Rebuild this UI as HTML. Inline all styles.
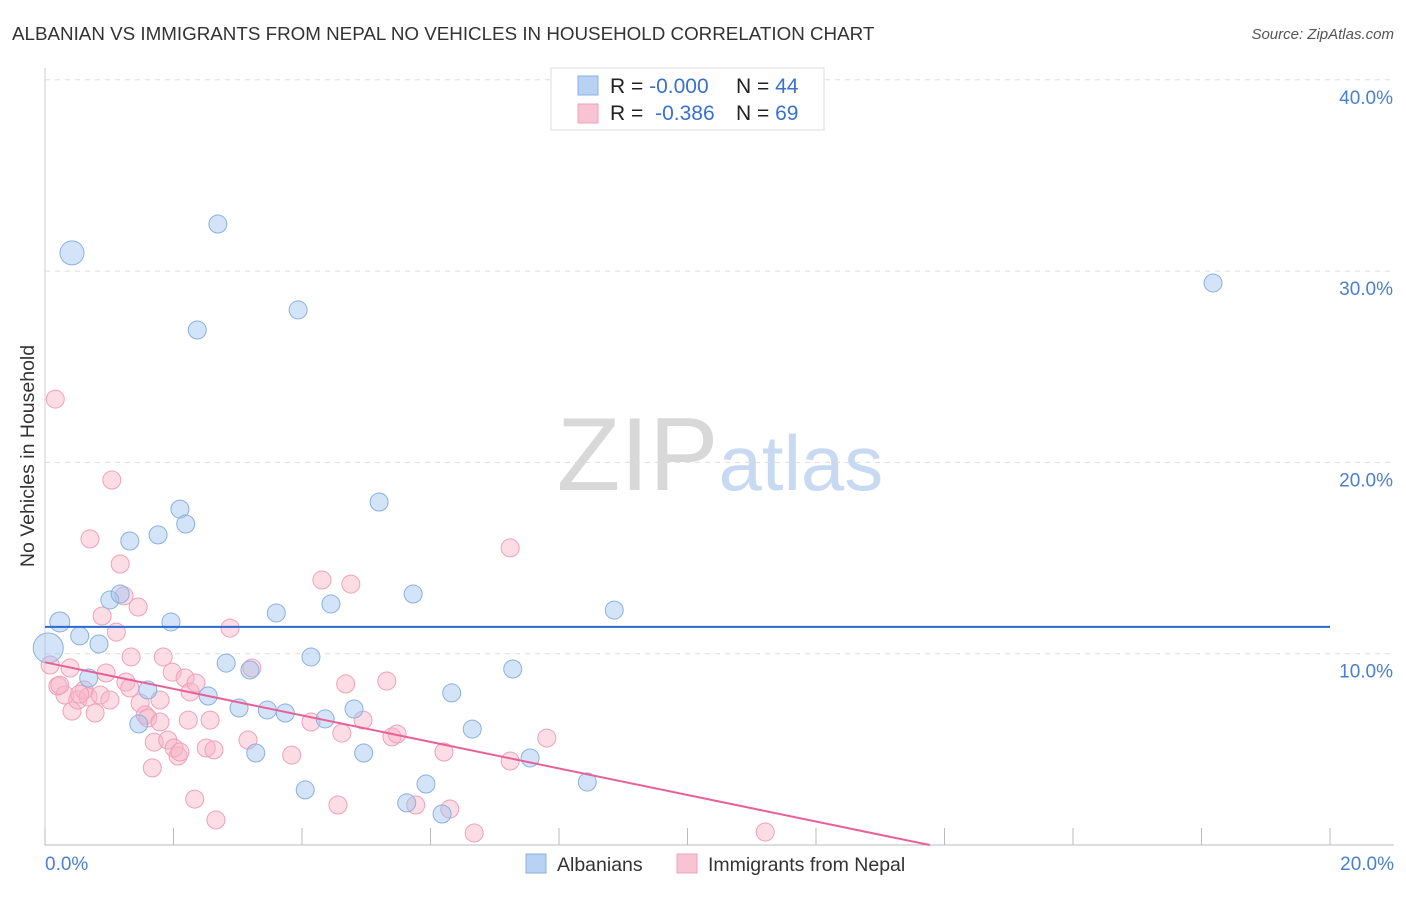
<!DOCTYPE html>
<html><head><meta charset="utf-8"><style>
body{margin:0;background:#fff;font-family:"Liberation Sans",sans-serif;}
svg text{font-family:"Liberation Sans",sans-serif;}
</style></head><body>
<svg id="chart" width="1406" height="892" xmlns="http://www.w3.org/2000/svg">
<text x="12" y="40" font-size="18.8" fill="#333">ALBANIAN VS IMMIGRANTS FROM NEPAL NO VEHICLES IN HOUSEHOLD CORRELATION CHART</text>
<text x="1394" y="39" font-size="15" fill="#555" font-style="italic" text-anchor="end">Source: ZipAtlas.com</text>
<text x="720" y="490" font-size="104" fill="#ddd" text-anchor="middle" font-family="Liberation Serif"><tspan fill="#d8d8d8">ZIP</tspan><tspan fill="#c8daf2" font-family="Liberation Sans" font-size="78">atlas</tspan></text>
<text transform="translate(34,456) rotate(-90)" font-size="19.5" fill="#333" text-anchor="middle">No Vehicles in Household</text>
<g id="grid"></g><g id="ticks"></g><g id="pts"></g><g id="lines"></g>
<g>
<rect x="551" y="68" width="273" height="62" fill="#fff" stroke="#ddd"/>
<rect x="578" y="76" width="20" height="19" fill="#b8d2f4" stroke="#8ab0e0"/>
<rect x="578" y="104" width="20" height="19" fill="#f8c4d4" stroke="#f0a0b8"/>
<text x="610" y="93" font-size="21" fill="#222">R = <tspan fill="#3a70d0">-0.000</tspan></text>
<text x="736" y="93" font-size="21" fill="#222">N = <tspan fill="#3a70d0">44</tspan></text>
<text x="610" y="120" font-size="21" fill="#222">R = <tspan fill="#3a70d0" dx="6">-0.386</tspan></text>
<text x="736" y="120" font-size="21" fill="#222">N = <tspan fill="#3a70d0">69</tspan></text>
</g>
<g>
<rect x="526" y="854" width="20" height="19" fill="#b8d2f4" stroke="#8ab0e0"/>
<text x="557" y="871" font-size="19.5" fill="#333">Albanians</text>
<rect x="677" y="854" width="20" height="19" fill="#f8c4d4" stroke="#f0a0b8"/>
<text x="708" y="871" font-size="19.5" fill="#333">Immigrants from Nepal</text>
</g>
</svg>
<script>
const xTicks=[0,20];
const yTicks=[10,20,30,40];
const blueX=[0.42,2.69,2.37,3.94,18.18,0.23,0.54,0.84,1.01,1.17,1.32,1.76,2.10,2.19,1.96,3.60,4.45,5.20,5.73,8.86,0.68,1.60,1.46,2.54,2.82,3.19,3.02,3.46,3.74,4.14,4.36,4.81,4.96,3.28,4.05,5.93,5.63,6.18,6.33,6.65,7.28,7.55,8.44,0.05];
const blueY=[30.95,32.46,26.92,27.97,29.38,11.66,10.93,10.51,12.81,13.12,15.89,16.21,17.56,16.78,11.66,12.13,12.60,17.93,13.12,12.28,8.73,8.10,6.33,7.79,9.51,9.15,7.16,7.06,6.90,9.83,6.59,7.11,4.81,4.81,2.88,3.19,2.20,1.62,7.95,6.06,9.20,4.55,3.29,10.30];
const blueSize=[12,9,9,9,9,10,9,9,9,9,9,9,9,9,9,9,9,9,9,9,9,9,9,9,9,9,9,9,9,9,9,9,9,9,9,9,9,9,9,9,9,9,9,15];
const pinkX=[0.16,1.04,0.70,1.17,1.23,1.45,0.89,1.11,2.88,7.24,4.31,4.76,0.08,0.20,0.31,0.42,0.51,0.61,0.67,0.78,0.86,0.95,1.01,1.26,1.34,1.48,1.56,1.60,1.79,1.84,1.98,1.79,1.70,1.91,2.01,2.07,2.10,2.18,2.26,2.23,2.35,2.57,2.51,2.63,1.67,2.33,2.66,3.22,3.16,3.84,4.14,4.62,4.68,4.95,5.32,5.40,5.48,4.56,5.77,6.30,6.21,6.68,7.24,7.81,11.21,0.23,0.54,1.32,0.39];
const pinkY=[23.31,19.08,16.00,14.69,13.02,12.44,11.97,11.13,11.34,15.53,13.85,13.64,9.41,8.31,7.84,7.00,7.58,8.10,7.74,6.90,7.84,8.99,7.58,8.52,9.83,7.42,6.80,6.64,7.58,9.83,9.04,6.43,5.38,5.49,5.07,4.65,4.86,8.73,8.00,6.53,8.47,6.53,5.07,4.97,4.03,2.40,1.31,9.25,5.49,4.70,6.43,5.85,8.42,6.53,8.57,5.65,5.80,2.09,2.09,1.88,4.86,0.63,4.39,5.59,0.68,8.36,7.89,8.21,9.25];
const blueTrend=[11.4,11.4];
const pinkTrend=[9.55,0];
const pinkTrendEndX=13.77;
const NS='http://www.w3.org/2000/svg';
const sx=v=>45+v*64.25, sy=v=>845-v*19.13;
function mk(t,a,p){const e=document.createElementNS(NS,t);for(const k in a)e.setAttribute(k,a[k]);document.getElementById(p).appendChild(e);return e;}
yTicks.forEach(t=>{
 const l=mk('line',{x1:45,x2:1394,y1:sy(t),y2:sy(t),stroke:'#ddd','stroke-dasharray':'5,5'},'grid');
 
 
 const tx=mk('text',{x:1393,y:sy(t)+24,'font-size':19,fill:'#4a7fd0','text-anchor':'end'},'ticks');
 tx.textContent=t.toFixed(1)+'%';
 
 
});
const ax=mk('line',{x1:45,x2:45,y1:68,y2:845,stroke:'#ccc'},'grid');


const bx=mk('line',{x1:45,x2:1394,y1:845,y2:845,stroke:'#bbb'},'grid');


for(let i=0;i<=10;i++){const v=i*2;const t=mk('line',{x1:sx(v),x2:sx(v),y1:828,y2:845,stroke:'#bbb'},'grid');
 
 }
xTicks.forEach((t,i)=>{const tx=mk('text',{x:i==0?45:1394,y:870,'font-size':19,fill:'#4a7fd0','text-anchor':i==0?'start':'end'},'ticks');
 tx.textContent=t.toFixed(1)+'%';
 
 });
pinkX.forEach((x,i)=>{const c=mk('circle',{cx:sx(x),cy:sy(pinkY[i]),r:9,fill:'rgba(248,180,200,0.45)',stroke:'#f0a0b8','stroke-width':1},'pts');
 
 });
blueX.forEach((x,i)=>{const c=mk('circle',{cx:sx(x),cy:sy(blueY[i]),r:blueSize[i],fill:'rgba(160,196,240,0.45)',stroke:'#8ab0e0','stroke-width':1},'pts');
 
 });
const bl=mk('line',{x1:sx(0),x2:sx(20),y1:sy(blueTrend[0]),y2:sy(blueTrend[1]),stroke:'#2a6ad0','stroke-width':2},'lines');


const pl=mk('line',{x1:sx(0),x2:sx(pinkTrendEndX),y1:sy(pinkTrend[0]),y2:sy(pinkTrend[1]),stroke:'#e8609a','stroke-width':2},'lines');


</script>
</body></html>
